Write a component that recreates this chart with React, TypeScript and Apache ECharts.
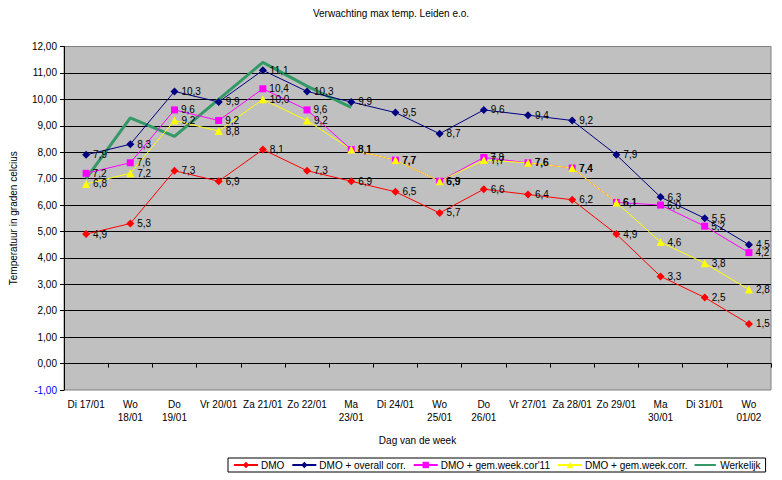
import React, { useEffect, useRef } from "react";
import * as echarts from "echarts";

const categories = [
  "Di 17/01", "Wo\n18/01", "Do\n19/01", "Vr 20/01", "Za 21/01", "Zo 22/01",
  "Ma\n23/01", "Di 24/01", "Wo\n25/01", "Do\n26/01", "Vr 27/01", "Za 28/01",
  "Zo 29/01", "Ma\n30/01", "Di 31/01", "Wo\n01/02",
];

const dmo = [4.9, 5.3, 7.3, 6.9, 8.1, 7.3, 6.9, 6.5, 5.7, 6.6, 6.4, 6.2, 4.9, 3.3, 2.5, 1.5];
const dmoOverall = [7.9, 8.3, 10.3, 9.9, 11.1, 10.3, 9.9, 9.5, 8.7, 9.6, 9.4, 9.2, 7.9, 6.3, 5.5, 4.5];
const dmoGemWeek11 = [7.2, 7.6, 9.6, 9.2, 10.4, 9.6, 8.1, 7.7, 6.9, 7.8, 7.6, 7.4, 6.1, 6.0, 5.2, 4.2];
const dmoGemWeek = [6.8, 7.2, 9.2, 8.8, 10.0, 9.2, 8.1, 7.7, 6.9, 7.7, 7.6, 7.4, 6.1, 4.6, 3.8, 2.8];
const werkelijk: (number | null)[] = [7.0, 9.3, 8.6, 10.0, 11.4, 10.5, 9.7, null, null, null, null, null, null, null, null, null];

const FONT = "'Liberation Sans', Arial, sans-serif";

const fmt1 = (p: any) => Number(p.value).toFixed(1).replace(".", ",");

function forecastSeries(name: string, data: number[], color: string, symbol: string, size: number) {
  return {
    name,
    type: "line",
    data,
    symbol,
    symbolSize: size,
    lineStyle: { color, width: 1 },
    itemStyle: { color },
    label: {
      show: true,
      position: "right",
      distance: 3,
      fontSize: 10,
      fontFamily: FONT,
      color: "#000",
      formatter: fmt1,
    },
    emphasis: { disabled: true },
    z: 3,
  };
}

export default function App() {
  const ref = useRef<HTMLDivElement>(null);
  useEffect(() => {
    if (!ref.current) return;
    const chart = echarts.init(ref.current, null, { renderer: "svg" });
    chart.setOption({
      animation: false,
      backgroundColor: "#fff",
      textStyle: { fontFamily: FONT },
      title: {
        text: "Verwachting max temp. Leiden e.o.",
        left: "center",
        top: 3,
        textStyle: { fontSize: 10, fontWeight: "normal", color: "#000", fontFamily: FONT },
      },
      grid: {
        left: 59.5,
        top: 46.5,
        right: 11,
        bottom: 90,
        show: true,
        backgroundColor: "#C0C0C0",
        borderColor: "#808080",
        borderWidth: 1,
      },
      legend: {
        left: 228,
        top: 458,
        orient: "horizontal",
        borderColor: "#000",
        borderWidth: 1,
        padding: [2, 5, 2, 5],
        itemGap: 7,
        itemWidth: 24,
        itemHeight: 8,
        textStyle: { fontSize: 10, color: "#000", fontFamily: FONT, padding: [0, 0, 0, -2] },
        data: [
          "DMO",
          "DMO + overall corr.",
          "DMO + gem.week.cor'11",
          "DMO + gem.week.corr.",
          {
            name: "Werkelijk",
            icon: "path://M0,0 M0,3.4 L24,3.4 L24,5.6 L0,5.6 Z M24,9",
          },
        ],
      },
      xAxis: {
        type: "category",
        data: categories,
        boundaryGap: true,
        name: "Dag van de week",
        nameLocation: "middle",
        nameGap: 45,
        nameTextStyle: { fontSize: 10, color: "#000", fontFamily: FONT },
        axisLine: { show: true, lineStyle: { color: "#000", width: 1 } },
        axisTick: { show: true, length: 4, alignWithLabel: false, interval: 0, lineStyle: { color: "#000" } },
        axisLabel: {
          interval: 0,
          fontSize: 10,
          color: "#000",
          fontFamily: FONT,
          lineHeight: 13,
          margin: 8,
        },
        splitLine: { show: false },
      },
      yAxis: {
        type: "value",
        min: -1,
        max: 12,
        interval: 1,
        name: "Temperatuur in graden celcius",
        nameLocation: "middle",
        nameGap: 46,
        nameTextStyle: { fontSize: 10, color: "#000", fontFamily: FONT },
        axisLine: { show: true, lineStyle: { color: "#000", width: 1 } },
        axisTick: { show: true, length: 4, lineStyle: { color: "#000" } },
        axisLabel: {
          fontSize: 10,
          fontFamily: FONT,
          margin: 7,
          formatter: (v: number) => v.toFixed(2).replace(".", ","),
          color: (v: any) => (Number(v) < 0 ? "#0000FF" : "#000"),
        },
        splitLine: {
          show: true,
          showMinLine: false,
          showMaxLine: false,
          lineStyle: { color: "#000", width: 1 },
        },
      },
      series: [
        forecastSeries("DMO", dmo, "#FF0000", "diamond", 8),
        forecastSeries("DMO + overall corr.", dmoOverall, "#000080", "diamond", 8),
        forecastSeries("DMO + gem.week.cor'11", dmoGemWeek11, "#FF00FF", "rect", 7),
        forecastSeries("DMO + gem.week.corr.", dmoGemWeek, "#FFFF00", "triangle", 8),
        {
          name: "Werkelijk",
          type: "line",
          data: werkelijk,
          symbol: "none",
          showSymbol: false,
          lineStyle: { color: "#339966", width: 3 },
          itemStyle: { color: "#339966" },
          emphasis: { disabled: true },
          z: 2,
        },
      ],
    });
    return () => chart.dispose();
  }, []);
  return (
    <div
      ref={ref}
      style={{ position: "absolute", left: 0, top: 0, width: 782, height: 480 }}
    />
  );
}
